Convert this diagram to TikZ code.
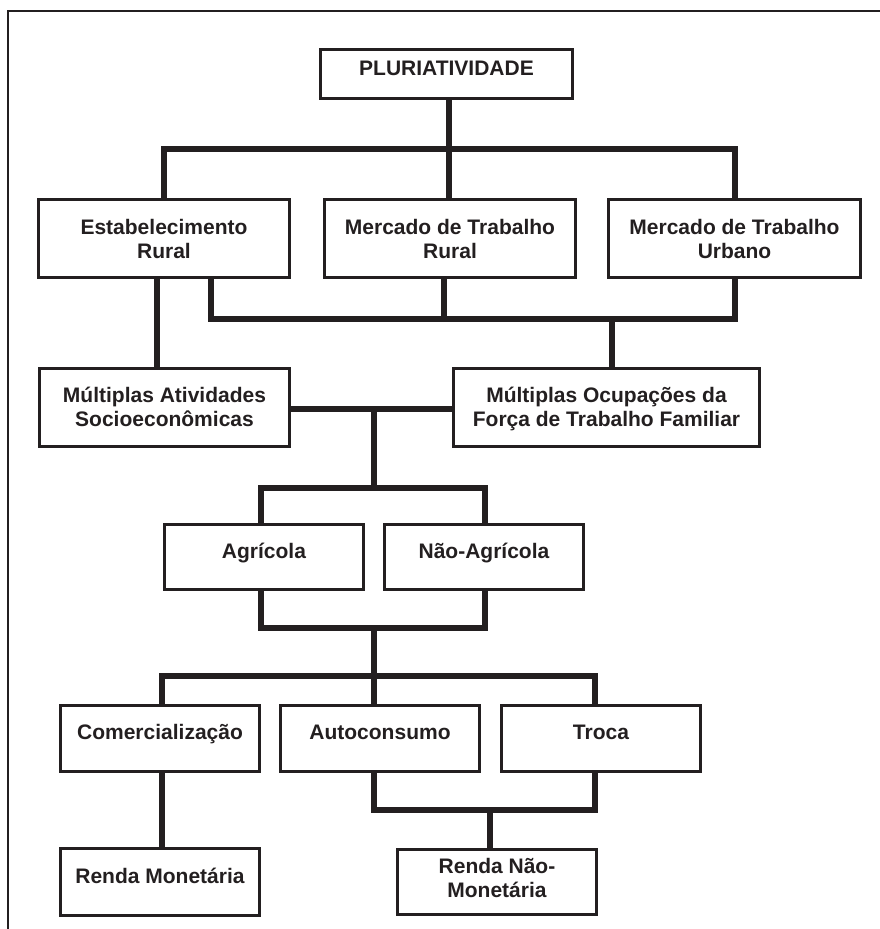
\documentclass[tikz,border=0pt]{standalone}
\usepackage{fontspec}
\setmainfont{Liberation Sans}
\definecolor{ink}{RGB}{35,31,32}
\begin{document}
\begin{tikzpicture}[x=1pt,y=-1pt,
  box/.style={draw=ink, line width=3pt, rectangle, inner sep=0pt, align=center,
     text=ink, font=\fontsize{21}{23.5}\selectfont\bfseries},
  one/.style={box, text height=15pt, text depth=13pt},
  two/.style={box, text height=39pt, text depth=0pt},
  link/.style={draw=ink, line width=6pt, line join=miter, line cap=butt},
  frame/.style={draw=ink, line width=2pt, line join=miter}]
\useasboundingbox (0,0) rectangle (880,929);
\draw[frame] (881,11) -- (8,11) -- (8,930);

% boxes
\node[one, minimum width=252pt, minimum height=49pt] (pl) at (446.5,74) {PLURIATIVIDADE};
\node[two, minimum width=251pt, minimum height=78pt] (est) at (164,238.5) {Estabelecimento\\Rural};
\node[two, minimum width=251pt, minimum height=78pt] (mr) at (450,238.5) {Mercado de Trabalho\\Rural};
\node[two, minimum width=252pt, minimum height=78pt] (mu) at (734.5,238.5) {Mercado de Trabalho\\Urbano};
\node[two, text height=37pt, minimum width=250pt, minimum height=78pt] (ma) at (164.5,407.5) {Múltiplas Atividades\\Socioeconômicas};
\node[two, text height=37pt, minimum width=306pt, minimum height=78pt] (mo) at (606.5,407.5) {Múltiplas Ocupações da\\Força de Trabalho Familiar};
\node[one, minimum width=199pt, minimum height=65pt] (ag) at (264,557) {Agrícola};
\node[one, minimum width=199pt, minimum height=65pt] (na) at (484,557) {Não-Agrícola};
\node[one, minimum width=199pt, minimum height=66pt] (co) at (160,738.5) {Comercialização};
\node[one, minimum width=199pt, minimum height=66pt] (au) at (380,738.5) {Autoconsumo};
\node[one, minimum width=199pt, minimum height=66pt] (tr) at (601,738.5) {Troca};
\node[one, minimum width=199pt, minimum height=67pt] (rm) at (160,882) {Renda Monetária};
\node[two, text height=30pt, minimum width=199pt, minimum height=65pt] (rn) at (497,882) {Renda Não-\\Monetária};

% junction coordinates
\coordinate (j1) at (449,149);
\coordinate (j2a) at (211,318.5);
\coordinate (j2b) at (444,318.5);
\coordinate (j2c) at (612,318.5);
\coordinate (e1) at (157,300);
\coordinate (j3) at (373.5,409);
\coordinate (j4) at (373.5,488);
\coordinate (a1) at (261,488);
\coordinate (a2) at (485,488);
\coordinate (b1) at (261,628);
\coordinate (b2) at (485,628);
\coordinate (j5) at (373.5,628);
\coordinate (j6) at (373.5,676);
\coordinate (c1) at (162,676);
\coordinate (c2) at (594.5,676);
\coordinate (d1) at (374,810);
\coordinate (d2) at (594.5,810);
\coordinate (d3) at (490,810);

% connectors
\draw[link] (pl.south -| j1) -- (j1);
\draw[link] (est.north) -- (est.north |- j1) -- (mu.north |- j1) -- (mu.north);
\draw[link] (j1) -- (mr.north -| j1);

\draw[link] (est.south -| j2a) -- (j2a) -- (mu.south |- j2a) -- (mu.south);
\draw[link] (mr.south -| j2b) -- (j2b);
\draw[link] (j2c) -- (mo.north -| j2c);
\draw[link] (est.south -| e1) -- (ma.north -| e1);

\draw[link] (ma.east |- j3) -- (mo.west |- j3);
\draw[link] (j3) -- (j4);
\draw[link] (ag.north -| a1) -- (a1) -- (a2) -- (na.north -| a2);
\draw[link] (ag.south -| b1) -- (b1) -- (b2) -- (na.south -| b2);
\draw[link] (j5) -- (j6);
\draw[link] (co.north -| c1) -- (c1) -- (c2) -- (tr.north -| c2);
\draw[link] (j6) -- (au.north -| j6);
\draw[link] (co.south -| c1) -- (rm.north -| c1);
\draw[link] (au.south -| d1) -- (d1) -- (d2) -- (tr.south -| d2);
\draw[link] (d3) -- (rn.north -| d3);
\end{tikzpicture}
\end{document}
